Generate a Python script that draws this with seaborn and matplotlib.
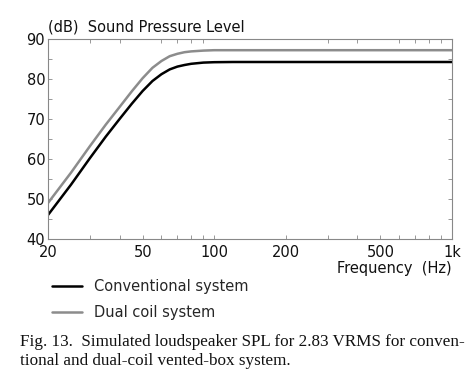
import matplotlib
matplotlib.use("Agg")
import matplotlib.pyplot as plt
import matplotlib.ticker as mticker
import seaborn as sns
import pandas as pd

freq_hz = [20, 25, 30, 35, 40, 45, 50, 55, 60, 65, 70, 75, 80, 90, 100, 120, 150, 200, 300, 500, 700, 1000]
spl_conventional = [46.0, 53.6, 60.2, 65.6, 70.0, 73.8, 77.0, 79.5, 81.2, 82.4, 83.1, 83.5, 83.8, 84.1, 84.2,
                    84.25, 84.25, 84.25, 84.25, 84.25, 84.25, 84.25]
spl_dual = [49.0, 56.6, 63.2, 68.6, 73.0, 76.9, 80.2, 82.8, 84.5, 85.7, 86.3, 86.7, 86.9, 87.1, 87.2,
            87.2, 87.2, 87.2, 87.2, 87.2, 87.2, 87.2]
series_names = ["Conventional system", "Dual coil system"]
x_major = [20, 50, 100, 200, 500, 1000]
x_labels = ["20", "50", "100", "200", "500", "1k"]
x_minor = [30, 40, 60, 70, 80, 90, 300, 400, 600, 700, 800, 900]
y_major = [40, 50, 60, 70, 80, 90]

df = pd.DataFrame({
    "freq": freq_hz + freq_hz,
    "spl": spl_conventional + spl_dual,
    "series": [series_names[0]] * len(freq_hz) + [series_names[1]] * len(freq_hz),
})

sns.set_style("white")
plt.rcParams["font.family"] = ["DejaVu Sans"]

fig = plt.figure(figsize=(4.75, 3.84), dpi=100)
ax = fig.add_axes([48 / 475, 1 - 239 / 384, 404 / 475, 200 / 384])

sns.lineplot(data=df, x="freq", y="spl", hue="series",
             palette={series_names[0]: "#000000", series_names[1]: "#8c8c8c"},
             linewidth=1.8, ax=ax, legend=True)

ax.set_xscale("log")
ax.set_xlim(20, 1000)
ax.set_ylim(40, 90)
ax.xaxis.set_major_locator(mticker.FixedLocator(x_major))
ax.xaxis.set_major_formatter(mticker.FixedFormatter(x_labels))
ax.xaxis.set_minor_locator(mticker.FixedLocator(x_minor))
ax.xaxis.set_minor_formatter(mticker.NullFormatter())
ax.yaxis.set_major_locator(mticker.FixedLocator(y_major))
ax.yaxis.set_minor_locator(mticker.MultipleLocator(5))

ax.tick_params(which="both", direction="in", top=True, right=True, bottom=True, left=True,
               color="#888888", width=0.6, labelsize=10.5, labelcolor="#111111")
ax.tick_params(which="major", length=3, pad=2)
ax.tick_params(which="minor", length=3)
ax.tick_params(axis="y", which="major", labelright=False, pad=2)
ax.tick_params(axis="x", which="major", top=False, pad=4)
for s in ax.spines.values():
    s.set_color("#888888")
    s.set_linewidth(0.8)

ax.set_xlabel("")
ax.set_ylabel("")
ax.text(0.0, 1.02, "(dB)  Sound Pressure Level", transform=ax.transAxes,
        ha="left", va="bottom", fontsize=10.5, color="#111111")
ax.text(1.0, -0.11, "Frequency  (Hz)", transform=ax.transAxes,
        ha="right", va="top", fontsize=10.5, color="#111111")

handles, labels = ax.get_legend_handles_labels()
ax.legend(handles, labels, loc="upper left", bbox_to_anchor=(46 / 475, 1 - 273 / 384),
          bbox_transform=fig.transFigure, frameon=False, fontsize=10.5,
          handlelength=2.1, handletextpad=0.8, labelspacing=0.8, borderaxespad=0)

fig.text(20 / 475, 1 - 342 / 384,
         "Fig. 13.  Simulated loudspeaker SPL for 2.83 VRMS for conven-",
         ha="left", va="center", fontsize=12.3, family="Liberation Serif", color="#111111")
fig.text(20 / 475, 1 - 361 / 384,
         "tional and dual-coil vented-box system.",
         ha="left", va="center", fontsize=12.3, family="Liberation Serif", color="#111111")

fig.savefig("out.png", dpi=100, facecolor="white")
